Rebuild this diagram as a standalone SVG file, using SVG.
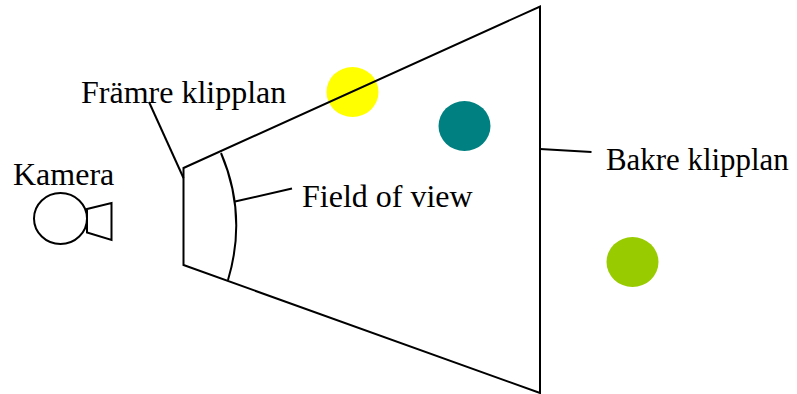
<svg xmlns="http://www.w3.org/2000/svg" width="797" height="394" viewBox="0 0 797 394">
<style>
.l{fill:none;stroke:#000;stroke-width:2}
.t{font-family:"Liberation Serif",serif;fill:#000}
</style>
<rect width="797" height="394" fill="#fff"/>
<g id="balls">
<ellipse id="ball-yellow" cx="352.500" cy="92" rx="26" ry="25" fill="#ffff00"/>
<ellipse id="ball-teal" cx="464.500" cy="126" rx="26" ry="25" fill="#008080"/>
<ellipse id="ball-green" cx="632.500" cy="262" rx="26" ry="25" fill="#99cc00"/>
</g>
<g id="connectors">
<path class="l" d="M183.500 168L540 6.500V393L183.500 265Z"/>
<path class="l" d="M221 153Q247.500 215 228 280"/>
<path class="l" d="M183.500 178L149 102"/>
<path class="l" d="M235 201.500L292 188.500"/>
<path class="l" d="M540 149L591.500 152"/>
</g>
<g id="camera">
<ellipse cx="60.500" cy="218.500" rx="26.500" ry="25.500" fill="#fff" stroke="#000" stroke-width="2"/>
<path class="l" d="M87 209L111.500 203V240L87 232.500Z"/>
</g>
<text class="t" x="81" y="103" font-size="32">Främre klipplan</text>
<text class="t" x="13" y="185" font-size="32">Kamera</text>
<text class="t" x="302" y="207" font-size="32">Field of view</text>
<text class="t" x="606" y="169.500" font-size="30.900">Bakre klipplan</text>
</svg>
